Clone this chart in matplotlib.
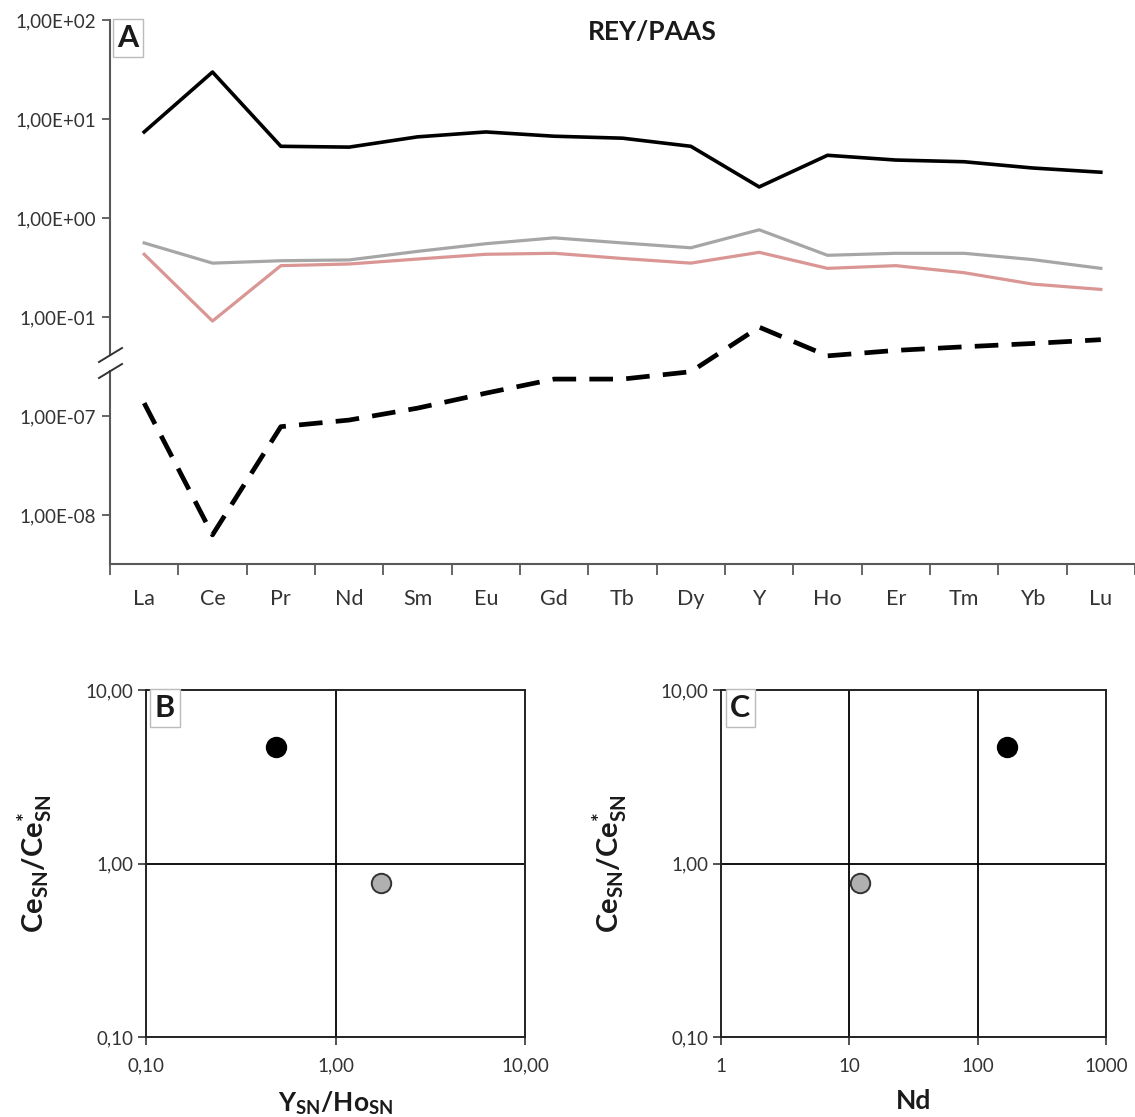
import numpy as np
import matplotlib
matplotlib.use("Agg")
import matplotlib.pyplot as plt
from matplotlib.ticker import FixedLocator, FixedFormatter, NullLocator
from matplotlib.lines import Line2D
from matplotlib.patches import Rectangle

plt.rcParams['font.family'] = ['Lato', 'DejaVu Sans']
plt.rcParams['mathtext.fontset'] = 'custom'
plt.rcParams['mathtext.rm'] = 'Lato'
plt.rcParams['mathtext.bf'] = 'Lato:bold'
plt.rcParams['mathtext.it'] = 'Lato:italic'

# ---------------- data ----------------
elements = ["La", "Ce", "Pr", "Nd", "Sm", "Eu", "Gd", "Tb", "Dy", "Y", "Ho", "Er", "Tm", "Yb", "Lu"]
black_solid = [7.4, 29.8, 5.3, 5.2, 6.6, 7.4, 6.7, 6.4, 5.3, 2.06, 4.3, 3.85, 3.7, 3.2, 2.9]
gray_line = [0.56, 0.35, 0.37, 0.377, 0.46, 0.55, 0.63, 0.56, 0.50, 0.76, 0.42, 0.44, 0.44, 0.38, 0.31]
pink_line = [0.43, 0.091, 0.33, 0.343, 0.385, 0.43, 0.44, 0.39, 0.35, 0.45, 0.31, 0.33, 0.28, 0.215, 0.19]
dashed_line = [1.35e-7, 6.3e-9, 7.8e-8, 9.1e-8, 1.2e-7, 1.7e-7, 2.36e-7, 2.36e-7, 2.8e-7,
               7.9e-7, 4.05e-7, 4.6e-7, 5.0e-7, 5.4e-7, 5.9e-7]
yticks_A = [1e2, 1e1, 1e0, 1e-1, 1e-7, 1e-8]
yticklabels_A = ["1,00E+02", "1,00E+01", "1,00E+00", "1,00E-01", "1,00E-07", "1,00E-08"]

# panel B
ysn_hosn = [0.485, 1.74]
ce_anom = [4.69, 0.77]
# panel C
nd_vals = [169, 12.1]
point_colors = ["black", "#b0b0b0"]

ticksB_x = [0.1, 1, 10]
ticksB_xlab = ["0,10", "1,00", "10,00"]
ticks_y = [0.1, 1, 10]
ticks_ylab = ["0,10", "1,00", "10,00"]
ticksC_x = [1, 10, 100, 1000]
ticksC_xlab = ["1", "10", "100", "1000"]

W, H = 1135, 1117
fig = plt.figure(figsize=(W / 100, H / 100), dpi=100)

def fx(px):
    return px / W

def fy(py):
    return 1 - py / H

# ---------------- panel A (broken log axis) ----------------
SHIFT = 5.0

def fwd(v):
    v = np.asarray(v, dtype=float)
    l = np.log10(np.clip(v, 1e-30, None))
    return np.where(l < -4, l + SHIFT, l)

def inv(p):
    p = np.asarray(p, dtype=float)
    return np.where(p < -1.5, 10 ** (p - SHIFT), 10 ** p)

axA = fig.add_axes([fx(110), fy(564), fx(1135 - 110), fy(20) - fy(564)])
axA.set_yscale('function', functions=(fwd, inv))
x = np.arange(len(elements))
axA.plot(x, black_solid, color="black", lw=2.6)
axA.plot(x, gray_line, color="#a6a6a6", lw=2.3)
axA.plot(x, pink_line, color="#d99694", lw=2.3)
axA.plot(x, dashed_line, color="black", lw=3.4, linestyle=(0, (5.0, 2.8)))
axA.set_xlim(-0.5, len(elements) - 0.5)
axA.set_ylim(10 ** (-3.495 - SHIFT), 100)

axA.yaxis.set_major_locator(FixedLocator(yticks_A))
axA.yaxis.set_major_formatter(FixedFormatter(yticklabels_A))
axA.yaxis.set_minor_locator(NullLocator())
axA.tick_params(axis='y', which='major', direction='out', length=6, width=1.3,
                color="#595959", labelsize=13.5, labelcolor="#333333", pad=4)

axA.xaxis.set_major_locator(FixedLocator(np.arange(-0.5, len(elements), 1.0)))
axA.xaxis.set_major_formatter(FixedFormatter([""] * (len(elements) + 1)))
axA.xaxis.set_minor_locator(FixedLocator(x))
axA.xaxis.set_minor_formatter(FixedFormatter(elements))
axA.tick_params(axis='x', which='major', direction='out', length=8, width=1.3, color="#595959")
axA.tick_params(axis='x', which='minor', length=0, labelsize=15.5, labelcolor="#333333", pad=18)

for s in ["top", "right"]:
    axA.spines[s].set_visible(False)
for s in ["left", "bottom"]:
    axA.spines[s].set_color("#595959")
    axA.spines[s].set_linewidth(1.5)

axA.text(0.575, 0.971, "REY/PAAS", transform=fig.transFigure, ha="center", va="center",
         fontsize=19, fontweight="bold", color="#1a1a1a")

# panel label A
fig.text(fx(128), fy(38), "A", ha="center", va="center", fontsize=22, fontweight="bold",
         color="#1a1a1a",
         bbox=dict(boxstyle="square,pad=0.15", fc="white", ec="#bbbbbb", lw=1))

# break marks on the y axis
fig.add_artist(Rectangle((fx(105), fy(370)), fx(10), fy(356) - fy(370), transform=fig.transFigure,
                         fc="white", ec="none", zorder=5))
for yc in (355, 371):
    fig.add_artist(Line2D([fx(99), fx(122)], [fy(yc + 7), fy(yc - 7)], transform=fig.transFigure,
                          color="#333333", lw=1.4, zorder=6))

# ---------------- panels B and C ----------------
def scatter_panel(rect, xv, yv, xticks, xlabs, xlim, label, xlabel):
    ax = fig.add_axes(rect)
    ax.set_xscale('log')
    ax.set_yscale('log')
    ax.set_xlim(*xlim)
    ax.set_ylim(0.1, 10)
    for gx in xticks[1:-1]:
        ax.axvline(gx, color="black", lw=1.3, zorder=1)
    ax.axhline(1, color="black", lw=1.3, zorder=1)
    for xi, yi, c in zip(xv, yv, point_colors):
        ax.plot([xi], [yi], marker="o", ms=14, color=c, mec="#333333" if c != "black" else "black",
                mew=1.4, linestyle="none", zorder=3)
    ax.xaxis.set_major_locator(FixedLocator(xticks))
    ax.xaxis.set_major_formatter(FixedFormatter(xlabs))
    ax.yaxis.set_major_locator(FixedLocator(ticks_y))
    ax.yaxis.set_major_formatter(FixedFormatter(ticks_ylab))
    ax.xaxis.set_minor_locator(NullLocator())
    ax.yaxis.set_minor_locator(NullLocator())
    ax.tick_params(axis='both', direction='out', length=6, width=1.2, color="#333333",
                   labelsize=13.5, labelcolor="#333333")
    ax.tick_params(axis='x', pad=9)
    ax.tick_params(axis='y', pad=3)
    for s in ax.spines.values():
        s.set_color("#222222")
        s.set_linewidth(1.4)
    ax.text(0.05, 0.948, label, transform=ax.transAxes, ha="center", va="center",
            fontsize=22, fontweight="bold", color="#1a1a1a",
            bbox=dict(boxstyle="square,pad=0.15", fc="white", ec="#bbbbbb", lw=1))
    ax.set_xlabel(xlabel, fontsize=19, fontweight="bold", labelpad=10, color="#1a1a1a")
    ax.set_ylabel(r"$\mathbf{Ce}_{\mathbf{SN}}\mathbf{/Ce}_{\mathbf{SN}}^{\mathbf{*}}$",
                  fontsize=21, labelpad=22, color="#1a1a1a")
    return ax

scatter_panel([fx(146), fy(1037), fx(525 - 146), fy(690) - fy(1037)], ysn_hosn, ce_anom,
              ticksB_x, ticksB_xlab, (0.1, 10), "B",
              r"$\mathbf{Y}_{\mathbf{SN}}\mathbf{/Ho}_{\mathbf{SN}}$")
scatter_panel([fx(721), fy(1037), fx(1106 - 721), fy(690) - fy(1037)], nd_vals, ce_anom,
              ticksC_x, ticksC_xlab, (1, 1000), "C", "Nd")

fig.savefig("out.png", dpi=100, facecolor="white")
